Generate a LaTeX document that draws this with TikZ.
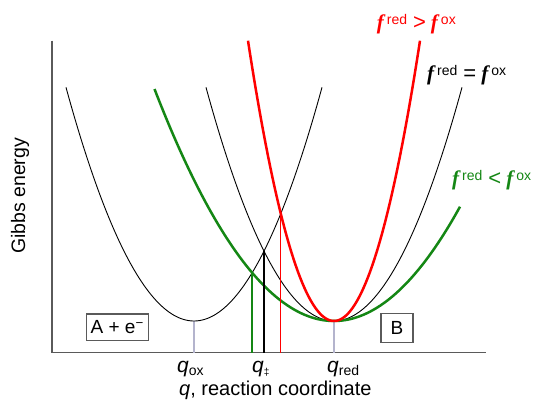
\documentclass[tikz,border=0pt]{standalone}
\usepackage{fontspec}
\setmainfont{Liberation Sans}
\newfontfamily\fserif{Liberation Serif}
\newcommand{\ffsym}{{\fontsize{21}{23}\fserif\bfseries\itshape f}}
\newcommand{\supx}[1]{\raisebox{5.5pt}{\fontsize{14}{15}\selectfont #1}}
\newcommand{\flabel}[1]{\ffsym\hspace{3pt}\supx{red}\hspace{6pt}{\fontsize{22}{23}\selectfont #1}\hspace{5pt}\ffsym\hspace{3pt}\supx{ox}}
\definecolor{myred}{RGB}{255,0,0}
\definecolor{mygreen}{RGB}{20,135,20}
\definecolor{axisgray}{RGB}{90,90,90}
\definecolor{tickgray}{RGB}{180,180,205}
\tikzset{
  thincurve/.style={black, line width=0.9pt},
  thickred/.style={myred, line width=2.5pt},
  thickgreen/.style={mygreen, line width=2.5pt},
  axisline/.style={axisgray, line width=1.5pt},
  ticky/.style={tickgray, line width=1.6pt},
  statebox/.style={draw=axisgray, line width=1.4pt, inner sep=0pt, font=\fontsize{19}{21}\selectfont},
  lab/.style={inner sep=0pt, anchor=base west, font=\fontsize{19}{21}\selectfont},
  qlab/.style={inner sep=0pt, anchor=base west, font=\fontsize{21}{23}\selectfont},
}
\begin{document}
\begin{tikzpicture}[x=1pt, y=-1pt]
\useasboundingbox[fill=white] (0,0) rectangle (536,403);
% axes
\coordinate (top) at (52,40.7);
\coordinate (O) at (52,352.7);
\coordinate (xend) at (486,352.7);
\draw[axisline] (top) -- (O) -- (xend);
% minima
\coordinate (mox) at (194,321);
\coordinate (mred) at (334,321);
\draw[ticky] (mox) -- (mox |- O);
\draw[ticky] (mred) -- (mred |- O);
% black parabolas
\draw[thincurve] plot[domain=66:322, samples=120, smooth] (\x, {321-1.426*((\x-194)/10)^2});
\draw[thincurve] plot[domain=206:462, samples=120, smooth] (\x, {321-1.426*((\x-334)/10)^2});
% green parabola
\draw[thickgreen] plot[domain=154.5:460, samples=120, smooth] (\x, {321-0.72*((\x-334)/10)^2});
% red parabola
\draw[thickred] plot[domain=248:420, samples=120, smooth] (\x, {321-3.79*((\x-334)/10)^2});
% crossing points
\coordinate (xg) at (252.2,272.7);
\coordinate (xb) at (264,251.1);
\coordinate (xr) at (280.8,213.6);
\draw[mygreen, line width=2pt] (xg) -- (xg |- O);
\draw[black, line width=2.4pt] (xb) -- (xb |- O);
\draw[myred, line width=1.2pt] (xr) -- (xr |- O);
% state boxes
\node[statebox, minimum width=62pt, minimum height=26.5pt] (A) at (117.2,327.3) {A + e\textsuperscript{−}};
\node[statebox, minimum width=32pt, minimum height=29.4pt] (B) at (397,328) {B};
% axis labels
\node[font=\fontsize{19.5}{21}\selectfont, rotate=90, inner sep=0pt] (gibbs) at (20,196) {Gibbs energy};
\node[lab, font=\fontsize{20}{22}\selectfont] (qx) at (179,396) {\textit{q}, reaction coordinate};
\node[qlab] (qox) at (177,372.4) {\textit{q}\textsubscript{\fontsize{14}{15}\selectfont ox}};
\node[qlab] (qts) at (252,372.4) {\textit{q}\textsubscript{\fontsize{10}{12}\selectfont\ddag}};
\node[qlab] (qred) at (327,372.4) {\textit{q}\textsubscript{\fontsize{14}{15}\selectfont red}};
% curve labels
\node[lab, text=myred] (lr) at (376.7,30) {\flabel{>}};
\node[lab, text=black] (lb) at (427,81) {\flabel{=}};
\node[lab, text=mygreen] (lg) at (452,186) {\flabel{<}};
\end{tikzpicture}
\end{document}
